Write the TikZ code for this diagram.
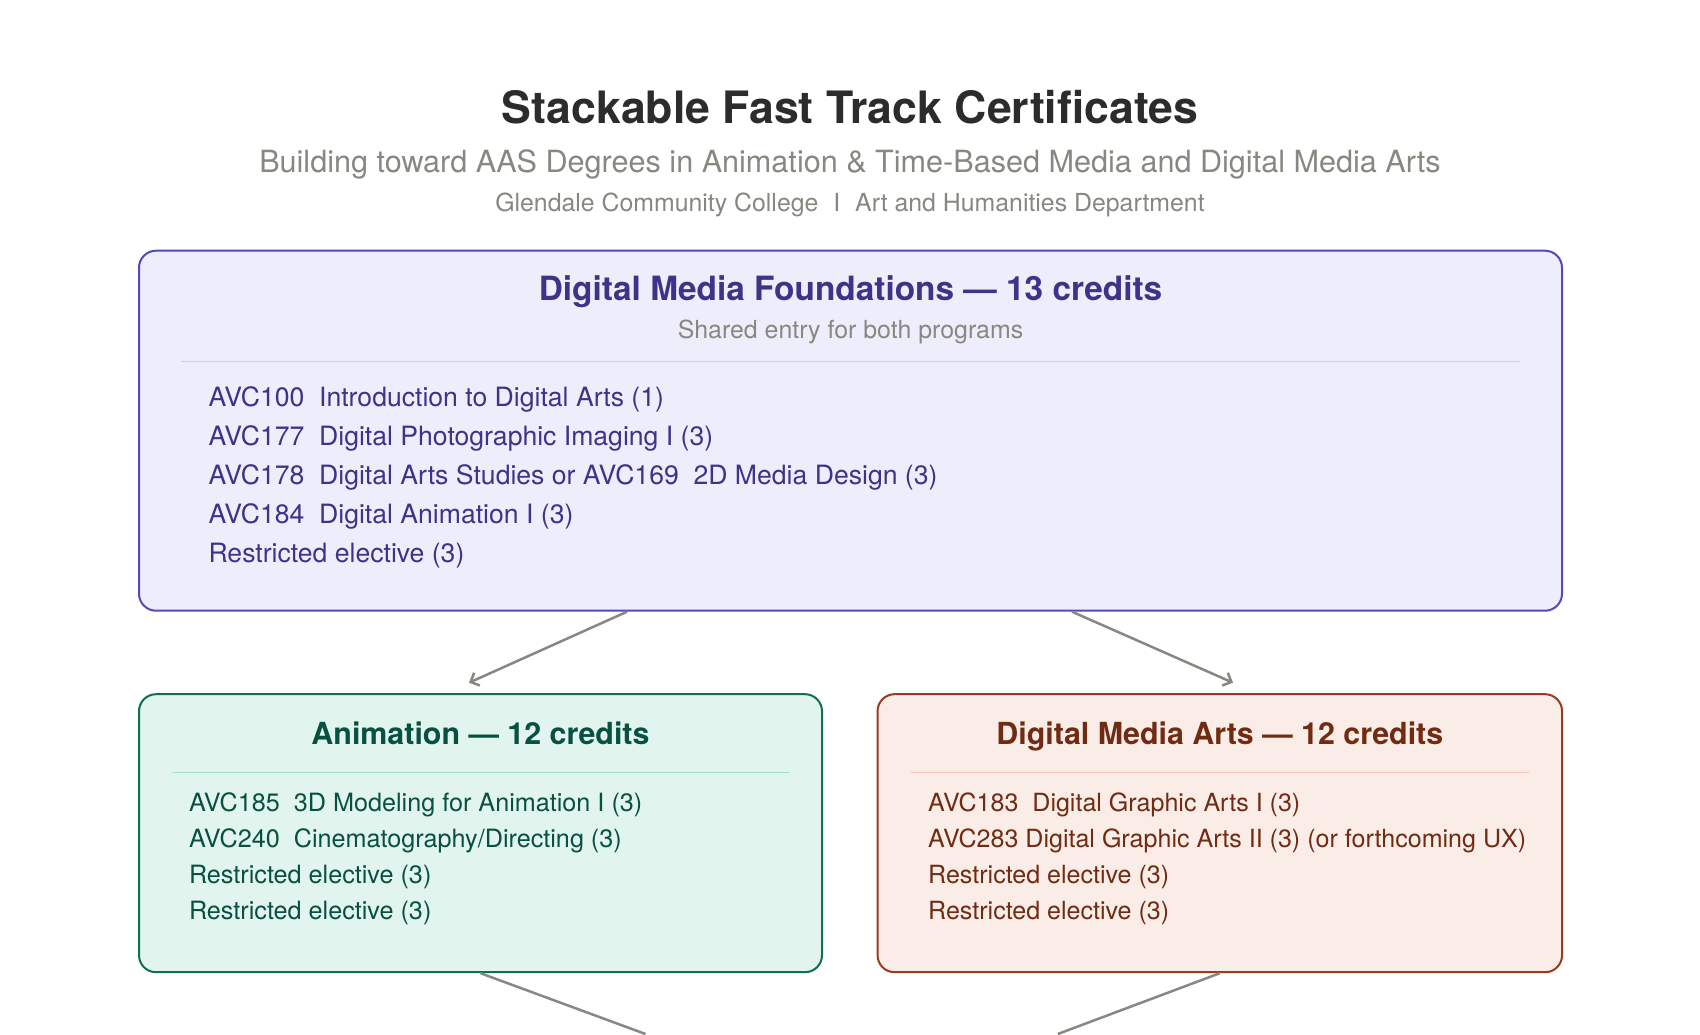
\documentclass[tikz,border=0pt]{standalone}
\usepackage{fontspec}
\setmainfont{TeX Gyre Heros}
\usetikzlibrary{arrows.meta,calc}
\definecolor{titlec}{HTML}{2C2C2A}
\definecolor{grayc}{HTML}{888780}
\definecolor{pfill}{HTML}{EEEDFC}
\definecolor{pdraw}{HTML}{534AB7}
\definecolor{ptext}{HTML}{3C3489}
\definecolor{psep}{HTML}{CECBF6}
\definecolor{tfill}{HTML}{E1F5EE}
\definecolor{tdraw}{HTML}{0F6E56}
\definecolor{ttext}{HTML}{085041}
\definecolor{tsep}{HTML}{9FE1CB}
\definecolor{cfill}{HTML}{FAECE7}
\definecolor{cdraw}{HTML}{993C1D}
\definecolor{ctext}{HTML}{712B13}
\definecolor{csep}{HTML}{F5C4B3}
\newcommand{\cgap}{\hspace{0.556em}}
\begin{document}
\begin{tikzpicture}[x=1pt,y=-1pt,
  boxnode/.style={rounded corners=17pt,line width=2pt,inner sep=0pt},
  txt/.style={inner sep=0pt,anchor=base},
  item/.style={inner sep=0pt,anchor=base west},
  sepline/.style={line width=1.2pt},
  arr/.style={draw=grayc,line width=2.5pt,-{Straight Barb[length=7pt,width=14pt,line width=2.5pt]}},
  link/.style={draw=grayc,line width=2.5pt}]
\useasboundingbox[fill=white] (0,0) rectangle (1700,1034);
% title block
\node[txt,text=titlec,font=\fontsize{44.6}{53}\selectfont\bfseries] (title) at (850,123.5) {Stackable Fast Track Certificates};
\node[txt,text=grayc,font=\fontsize{30.6}{36}\selectfont] (sub) at (850,172.5) {Building toward AAS Degrees in Animation \& Time-Based Media and Digital Media Arts};
\node[txt,text=grayc,font=\fontsize{24.85}{30}\selectfont] (inst) at (850,211.5) {Glendale Community College\hspace{0.6em}I\hspace{0.6em}Art and Humanities Department};
% boxes
\node[boxnode,fill=pfill,draw=pdraw,minimum width=1423pt,minimum height=360pt] (F) at (850.5,430.7) {};
\node[boxnode,fill=tfill,draw=tdraw,minimum width=683pt,minimum height=278pt] (A) at (480.5,833.2) {};
\node[boxnode,fill=cfill,draw=cdraw,minimum width=684.5pt,minimum height=278pt] (D) at (1219.8,833.2) {};
% foundations content
\node[txt,text=ptext,font=\fontsize{33.4}{40}\selectfont\bfseries] (fh) at (850.5,300) {Digital Media Foundations — 13 credits};
\node[txt,text=grayc,font=\fontsize{24.9}{30}\selectfont] (fs) at (850.5,338) {Shared entry for both programs};
\draw[sepline,draw=psep] (181,361.3) -- (1520,361.3);
\begin{scope}[every node/.style={item,text=ptext,font=\fontsize{26.6}{32}\selectfont}]
\node (f1) at (208.3,406.5) {AVC100\cgap Introduction to Digital Arts (1)};
\node (f2) at (208.3,445.5) {AVC177\cgap Digital Photographic Imaging I (3)};
\node (f3) at (208.3,484.5) {AVC178\cgap Digital Arts Studies or AVC169\cgap 2D Media Design (3)};
\node (f4) at (208.3,523.5) {AVC184\cgap Digital Animation I (3)};
\node (f5) at (208.3,562.5) {Restricted elective (3)};
\end{scope}
% animation content
\node[txt,text=ttext,font=\fontsize{30.4}{36}\selectfont\bfseries] (ah) at (480.5,744) {Animation — 12 credits};
\draw[sepline,draw=tsep] (172,772.5) -- (789,772.5);
\begin{scope}[every node/.style={item,text=ttext,font=\fontsize{25.2}{30}\selectfont}]
\node (a1) at (188.8,811.8) {AVC185\cgap 3D Modeling for Animation I (3)};
\node (a2) at (188.8,847.6) {AVC240\cgap Cinematography/Directing (3)};
\node (a3) at (188.8,883.4) {Restricted elective (3)};
\node (a4) at (188.8,919.2) {Restricted elective (3)};
\end{scope}
% dma content
\node[txt,text=ctext,font=\fontsize{30.4}{36}\selectfont\bfseries] (dh) at (1219.8,744) {Digital Media Arts — 12 credits};
\draw[sepline,draw=csep] (911,772.5) -- (1529,772.5);
\begin{scope}[every node/.style={item,text=ctext,font=\fontsize{25.05}{30}\selectfont}]
\node (d1) at (928,811.8) {AVC183\cgap Digital Graphic Arts I (3)};
\node (d2) at (928,847.6) {AVC283 Digital Graphic Arts II (3) (or forthcoming UX)};
\node (d3) at (928,883.4) {Restricted elective (3)};
\node (d4) at (928,919.2) {Restricted elective (3)};
\end{scope}
% connectors
\draw[arr] ([xshift=-223.5pt]F.south) -- ([xshift=-11.5pt,yshift=10.5pt]A.north);
\draw[arr] ([xshift=221.5pt]F.south) -- ([xshift=13.2pt,yshift=10.5pt]D.north);
\coordinate (ga) at (645.5,1034);
\coordinate (gd) at (1057.8,1034);
\draw[link] (A.south) -- (ga);
\draw[link] (D.south) -- (gd);
\end{tikzpicture}
\end{document}
